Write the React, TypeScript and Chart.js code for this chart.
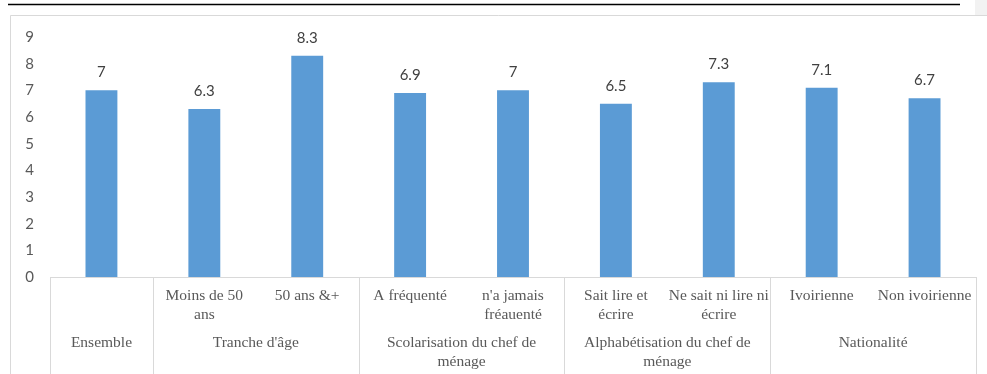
import React, { useEffect, useRef } from "react";
import { Chart, registerables } from "chart.js";

Chart.register(...registerables);

// Sub-categories (one bar each), with wrapped label lines
const categories = [
  "Ensemble",
  "Moins de 50 ans",
  "50 ans &+",
  "A fréquenté",
  "n'a jamais fréauenté",
  "Sait lire et écrire",
  "Ne sait ni lire ni écrire",
  "Ivoirienne",
  "Non ivoirienne",
];
const categoryLines: string[][] = [
  [],
  ["Moins de 50", "ans"],
  ["50 ans &+"],
  ["A fréquenté"],
  ["n'a jamais", "fréauenté"],
  ["Sait lire et", "écrire"],
  ["Ne sait ni lire ni", "écrire"],
  ["Ivoirienne"],
  ["Non ivoirienne"],
];
const values = [7, 6.3, 8.3, 6.9, 7, 6.5, 7.3, 7.1, 6.7];

// Outer grouping of the categories: label lines, start index, count
const groupLabels: string[][] = [
  ["Ensemble"],
  ["Tranche d'âge"],
  ["Scolarisation du chef de", "ménage"],
  ["Alphabétisation du chef de", "ménage"],
  ["Nationalité"],
];
const groupStarts = [0, 1, 3, 5, 7];
const groupSizes = [1, 2, 2, 2, 2];

const yTicks = [0, 1, 2, 3, 4, 5, 6, 7, 8, 9];

const GRID = "#d9d9d9";
const TEXT = "#595959";
const SERIF = "'Liberation Serif', 'Times New Roman', serif";
const SANS = "Lato, 'Noto Sans', sans-serif";

const framePlugin = {
  id: "frame",
  beforeDraw(chart: any) {
    const ctx = chart.ctx;
    ctx.save();
    ctx.fillStyle = "#ffffff";
    ctx.fillRect(0, 0, chart.width, chart.height);
    // rule above the chart
    ctx.strokeStyle = "#000000";
    ctx.lineWidth = 1.5;
    ctx.beginPath();
    ctx.moveTo(8, 4.5);
    ctx.lineTo(960, 4.5);
    ctx.stroke();
    ctx.fillStyle = "#f2f2f2";
    ctx.fillRect(975, 0, 12, 15);
    // chart box
    ctx.strokeStyle = GRID;
    ctx.lineWidth = 1;
    ctx.beginPath();
    ctx.moveTo(10.5, chart.height);
    ctx.lineTo(10.5, 15.5);
    ctx.lineTo(chart.width, 15.5);
    ctx.stroke();
    ctx.restore();
  },
  afterDraw(chart: any) {
    const ctx = chart.ctx;
    const xs = chart.scales.x;
    const area = chart.chartArea;
    const step = (area.right - area.left) / categories.length;
    const bottom = chart.height;
    ctx.save();

    // category axis line and group dividers
    ctx.strokeStyle = GRID;
    ctx.lineWidth = 1;
    ctx.beginPath();
    ctx.moveTo(area.left, area.bottom + 0.5);
    ctx.lineTo(area.right, area.bottom + 0.5);
    const bounds = [...groupStarts, categories.length];
    bounds.forEach((b) => {
      const x = Math.round(area.left + b * step) + 0.5;
      ctx.moveTo(x, area.bottom);
      ctx.lineTo(x, bottom);
    });
    ctx.stroke();

    // sub-category labels
    ctx.fillStyle = TEXT;
    ctx.font = `15.5px ${SERIF}`;
    ctx.textAlign = "center";
    ctx.textBaseline = "middle";
    categoryLines.forEach((lines, i) => {
      const cx = xs.getPixelForValue(i);
      lines.forEach((t, k) => ctx.fillText(t, cx, 296 + k * 19));
    });

    // group labels
    groupLabels.forEach((lines, g) => {
      const cx = area.left + (groupStarts[g] + groupSizes[g] / 2) * step;
      lines.forEach((t, k) => ctx.fillText(t, cx, 343 + k * 19));
    });

    // value labels above bars
    const meta = chart.getDatasetMeta(0);
    ctx.fillStyle = "#404040";
    ctx.font = `15px ${SANS}`;
    meta.data.forEach((bar: any, i: number) => {
      ctx.fillText(String(values[i]), bar.x, bar.y - 18);
    });
    ctx.restore();
  },
};

export default function App() {
  const ref = useRef<HTMLCanvasElement>(null);

  useEffect(() => {
    if (!ref.current) return;
    const chart = new Chart(ref.current, {
      type: "bar",
      data: {
        labels: categories,
        datasets: [
          {
            data: values,
            backgroundColor: "#5b9bd5",
            barPercentage: 0.31,
            categoryPercentage: 1,
          },
        ],
      },
      options: {
        animation: false,
        responsive: false,
        devicePixelRatio: 1,
        layout: { padding: { left: 10, right: 11, top: 37, bottom: 0 } },
        plugins: {
          legend: { display: false },
          tooltip: { enabled: false },
        },
        scales: {
          x: {
            grid: { display: false },
            border: { display: false },
            ticks: { display: false },
            afterFit: (s: any) => {
              s.height = 97;
            },
          },
          y: {
            min: 0,
            max: 9,
            afterBuildTicks: (s: any) => {
              s.ticks = yTicks.map((v) => ({ value: v }));
            },
            grid: { display: false },
            border: { display: false },
            ticks: {
              padding: 8,
              color: TEXT,
              font: { family: SANS, size: 15 },
            },
            afterFit: (s: any) => {
              s.width = 40;
            },
          },
        },
      },
      plugins: [framePlugin],
    });
    return () => chart.destroy();
  }, []);

  return (
    <div style={{ position: "fixed", left: 0, top: 0, width: 987, height: 374 }}>
      <canvas ref={ref} width={987} height={374} style={{ display: "block" }} />
    </div>
  );
}
